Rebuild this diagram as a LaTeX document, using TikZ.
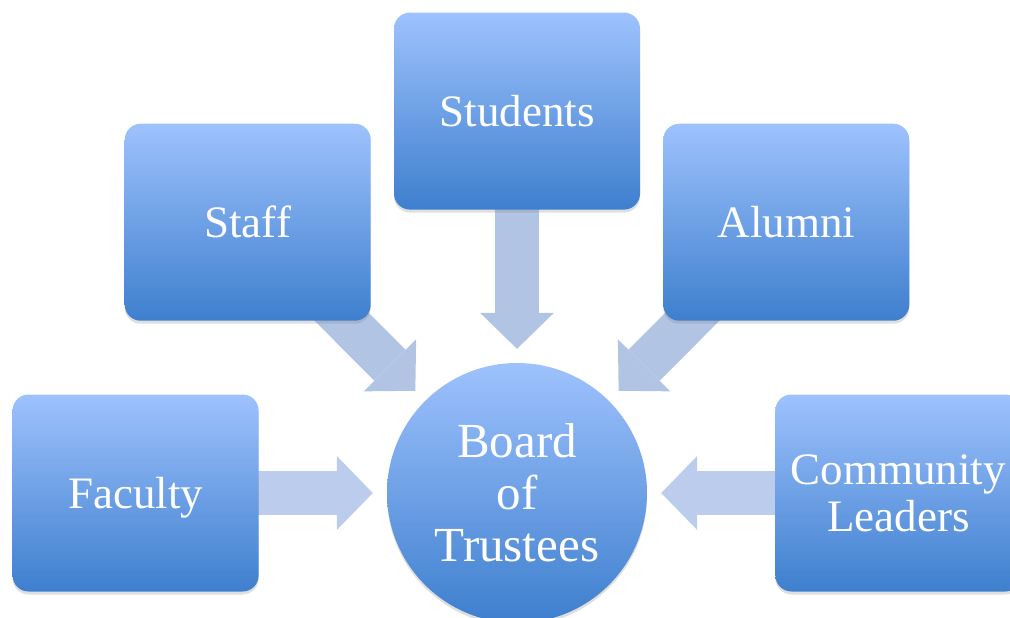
\documentclass[tikz,border=0pt]{standalone}
\usepackage{fontspec}
\setmainfont{Liberation Serif}
\usetikzlibrary{arrows.meta,positioning,shadows,backgrounds}
\definecolor{boxtop}{RGB}{158,194,253}
\definecolor{boxbottom}{RGB}{62,127,206}
\definecolor{flowblue}{RGB}{177,196,228}
\definecolor{sideblue}{RGB}{187,204,237}

\begin{document}
\begin{tikzpicture}[x=1pt,y=-1pt,node distance=128pt,
                    flow/.style={line width=44pt,color=flowblue,
                      -{Triangle[length=36pt,width=74pt,line width=0pt]},
                      shorten >=14pt,shorten <=-30pt},
                    side/.style={color=sideblue}]
	  \tikzstyle{stakeholder}=[rectangle,rounded corners=16pt,minimum width=246pt,minimum height=197pt,
	    top color=boxtop,bottom color=boxbottom,text=white,align=center,
	    font=\fontsize{45}{47}\selectfont,
	    drop shadow={shadow xshift=0pt,shadow yshift=-3pt,opacity=0.25}]
	  \tikzstyle{hub}=[circle,minimum size=260pt,inner sep=0pt,
	    top color=boxtop,bottom color=boxbottom,text=white,align=center,
	    font=\fontsize{49}{52}\selectfont,
	    drop shadow={shadow xshift=0pt,shadow yshift=-3pt,opacity=0.25}]

	  \useasboundingbox (0,0) rectangle (1010,618);
	  \clip (0,0) rectangle (1010,618);

	  \node[hub]            (board) at (517,493)                     {Board\\of\\Trustees};
	  \node[stakeholder,text depth=0pt] (faculty) [left=of board]   {Faculty};
	  \node[stakeholder]    (community) [right=of board]            {Community\\Leaders};
	  \node[stakeholder]    (students) [above=153pt of board]       {Students};
	  \node[stakeholder]    (staff) [above left=80pt and 54pt of board]   {Staff};
	  \node[stakeholder]    (alumni) [above right=80pt and 54pt of board] {Alumni};

	  \begin{scope}[on background layer]
	  \path[flow] (faculty) edge[side] (board)
	  (staff) edge (board)
	  (students) edge (board)
	  (alumni) edge (board)
	  (community) edge[side] (board);
	  \end{scope}
\end{tikzpicture}
\end{document}
